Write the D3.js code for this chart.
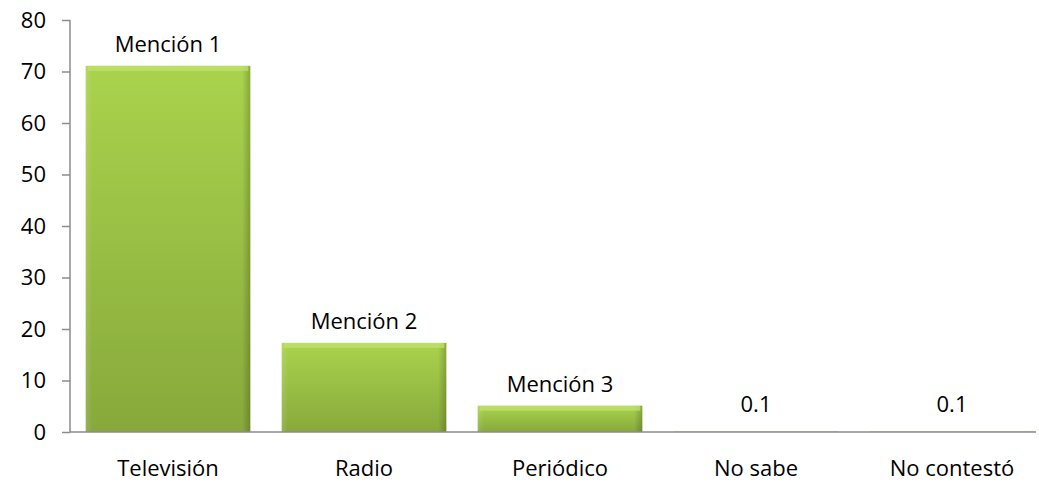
<!DOCTYPE html>
<html lang="es">
<head>
<meta charset="UTF-8">
<title>Medios</title>
<script src="https://d3js.org/d3.v7.min.js"></script>
<style>
  body { margin: 0; background: #fff; }
  text { font-family: "Open Sans", "Noto Sans", sans-serif; fill: #000; }
</style>
</head>
<body>
<svg width="1039" height="488"></svg>
<script>
// datos
var categories = ["Televisión", "Radio", "Periódico", "No sabe", "No contestó"];
var values = [71.1, 17.3, 5.1, 0.1, 0.1];
var barLabels = ["Mención 1", "Mención 2", "Mención 3", "0.1", "0.1"];
var yTicks = [0, 10, 20, 30, 40, 50, 60, 70, 80];

var svg = d3.select("svg");
var plotLeft = 70, plotRight = 1050, plotTop = 20, plotBottom = 432;

var x = d3.scaleBand().domain(categories).range([plotLeft, plotRight])
    .paddingInner(0.16).paddingOuter(0.08);
var y = d3.scaleLinear().domain([0, 80]).range([plotBottom, plotTop]);

// gradientes
var defs = svg.append("defs");
var gv = defs.append("linearGradient").attr("id", "gv")
    .attr("x1", 0).attr("y1", 0).attr("x2", 0).attr("y2", 1);
gv.append("stop").attr("offset", "0%").attr("stop-color", "#aad34d");
gv.append("stop").attr("offset", "100%").attr("stop-color", "#87a93b");
var gh = defs.append("linearGradient").attr("id", "gh")
    .attr("x1", 0).attr("y1", 0).attr("x2", 1).attr("y2", 0);
gh.append("stop").attr("offset", "0%").attr("stop-color", "#ffffff").attr("stop-opacity", 0.12);
gh.append("stop").attr("offset", "4%").attr("stop-color", "#ffffff").attr("stop-opacity", 0);
gh.append("stop").attr("offset", "95%").attr("stop-color", "#000000").attr("stop-opacity", 0);
gh.append("stop").attr("offset", "100%").attr("stop-color", "#000000").attr("stop-opacity", 0.2);

// eje y
var yAxis = svg.append("g")
    .attr("transform", "translate(" + plotLeft + ",0)")
    .call(d3.axisLeft(y).tickValues(yTicks).tickSize(8).tickPadding(16));
yAxis.selectAll("line, path").attr("stroke", "#8c8c8c").attr("stroke-width", 1.5);
yAxis.select(".domain").attr("d", "M0," + plotTop + "V" + plotBottom);
yAxis.selectAll("text").style("font-size", "22px").attr("fill", "#000");

// barras
var bars = svg.append("g").selectAll("g").data(categories).enter().append("g");
bars.append("rect")
    .attr("x", function(d) { return x(d); })
    .attr("y", function(d, i) { return y(values[i]); })
    .attr("width", x.bandwidth())
    .attr("height", function(d, i) { return plotBottom - y(values[i]); })
    .attr("fill", "url(#gv)");
bars.append("rect")
    .attr("x", function(d) { return x(d); })
    .attr("y", function(d, i) { return y(values[i]); })
    .attr("width", x.bandwidth())
    .attr("height", function(d, i) { return plotBottom - y(values[i]); })
    .attr("fill", "url(#gh)");
// bisel superior
bars.append("rect")
    .attr("x", function(d) { return x(d) + 2; })
    .attr("y", function(d, i) { return y(values[i]); })
    .attr("width", x.bandwidth() - 4)
    .attr("height", function(d, i) { return Math.min(5, plotBottom - y(values[i])); })
    .attr("fill", "#c2e270").attr("opacity", 0.7);

// linea del cero
svg.append("line")
    .attr("x1", plotLeft).attr("x2", 1036)
    .attr("y1", plotBottom).attr("y2", plotBottom)
    .attr("stroke", "#8c8c8c").attr("stroke-width", 1.5);

// etiquetas de barras
svg.append("g").selectAll("text").data(categories).enter().append("text")
    .attr("x", function(d) { return x(d) + x.bandwidth() / 2; })
    .attr("y", function(d, i) { return y(values[i]) - (values[i] < 1 ? 19 : 14); })
    .attr("text-anchor", "middle")
    .style("font-size", "22px")
    .text(function(d, i) { return barLabels[i]; });

// etiquetas de categorías
svg.append("g").selectAll("text").data(categories).enter().append("text")
    .attr("x", function(d) { return x(d) + x.bandwidth() / 2; })
    .attr("y", 476)
    .attr("text-anchor", "middle")
    .style("font-size", "22px")
    .text(function(d) { return d; });
</script>
</body>
</html>
